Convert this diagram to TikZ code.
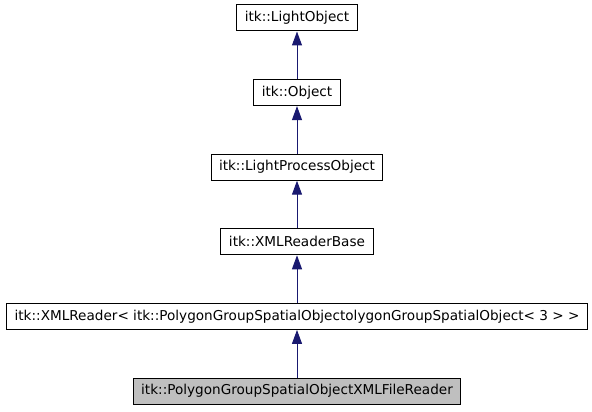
\documentclass[tikz,border=0pt]{standalone}
\usepackage{fontspec}
\setmainfont{DejaVu Sans}
\usepackage{tikz}
\usetikzlibrary{arrows.meta, positioning}
\definecolor{edgeblue}{HTML}{191970}
\definecolor{current}{HTML}{BFBFBF}

\begin{document}
\begin{tikzpicture}[node distance=35.7pt, every node/.style={font=\fontsize{10.2pt}{12pt}\selectfont}]
    \tikzset{cls/.style={draw=black, line width=0.75pt, fill=white, minimum height=19.5pt, inner xsep=6pt, inner ysep=0pt}}
    \node[cls, fill=current] (reader) {itk::PolygonGroupSpatialObjectXMLFileReader};
    \useasboundingbox (-222.75pt,-15pt) rectangle (221.25pt,293.25pt);
    \node[cls, above=of reader] (xmlr) {itk::XMLReader< itk::PolygonGroupSpatialObjectolygonGroupSpatialObject< 3 > >};
    \node[cls, above=of xmlr] (base) {itk::XMLReaderBase};
    \node[cls, above=of base] (lpo) {itk::LightProcessObject};
    \node[cls, above=of lpo] (obj) {itk::Object};
    \node[cls, above=of obj] (light) {itk::LightObject};
    \draw[-{Triangle[length=10.5pt, width=7.5pt]}, line width=0.75pt, color=edgeblue] (reader) -- (xmlr);
    \draw[-{Triangle[length=10.5pt, width=7.5pt]}, line width=0.75pt, color=edgeblue] (xmlr) -- (base);
    \draw[-{Triangle[length=10.5pt, width=7.5pt]}, line width=0.75pt, color=edgeblue] (base) -- (lpo);
    \draw[-{Triangle[length=10.5pt, width=7.5pt]}, line width=0.75pt, color=edgeblue] (lpo) -- (obj);
    \draw[-{Triangle[length=10.5pt, width=7.5pt]}, line width=0.75pt, color=edgeblue] (obj) -- (light);
  \end{tikzpicture}
\end{document}
